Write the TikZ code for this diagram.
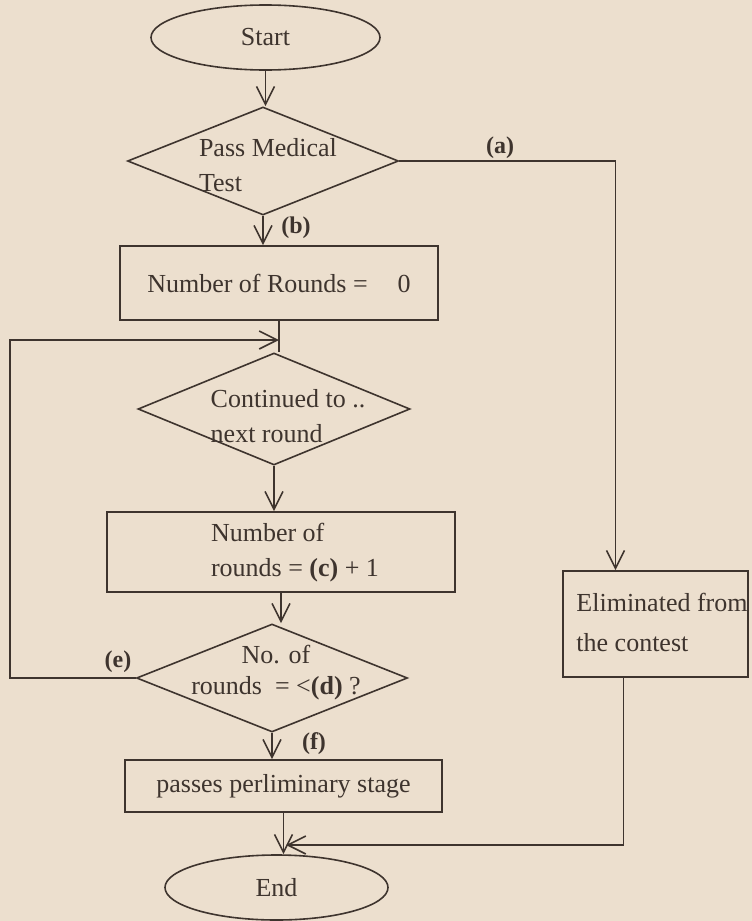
\documentclass[tikz,border=0pt]{standalone}
\usepackage{fontspec}
\setmainfont{Liberation Serif}
\usetikzlibrary{shapes.geometric,arrows.meta,calc}
\definecolor{paper}{RGB}{236,223,206}
\definecolor{ink}{RGB}{62,52,46}
\begin{document}
\begin{tikzpicture}[x=1pt,y=-1pt,
  every node/.style={font=\fontsize{26}{35}\selectfont, text=ink},
  shp/.style={draw=ink, line width=1.6pt, inner sep=0pt},
  term/.style={shp, ellipse},
  dec/.style={shp, diamond},
  proc/.style={shp, rectangle},
  txt/.style={inner sep=0pt, align=left},
  lab/.style={inner sep=0pt, font=\fontsize{24}{28}\selectfont\bfseries},
  conn/.style={draw=ink, line width=1.6pt},
  arr/.style={conn, -{Straight Barb[length=18pt,width=18pt]}}]
\fill[paper] (0,0) rectangle (752,921);
\useasboundingbox (0,0) rectangle (752,921);

% shapes
\node[term, minimum width=229pt, minimum height=65pt] (start) at (265.5,37.5) {Start};
\node[dec, minimum width=271pt, minimum height=108pt] (d1) at (263,161) {};
\node[txt] (d1t) at (268,165) {Pass Medical\\Test};
\node[proc, minimum width=318pt, minimum height=74pt] (b2) at (279,283) {Number of Rounds =\hspace{30pt}0};
\node[dec, minimum width=272pt, minimum height=112pt] (d2) at (274,409) {};
\node[txt] (d2t) at (288,416) {Continued to ..\\next round};
\node[proc, minimum width=348pt, minimum height=80pt] (b3) at (281,552) {};
\node[txt] (b3t) at (295,553) {Number of\\rounds = \textbf{(c)} + 1};
\node[dec, minimum width=271pt, minimum height=108pt] (d3) at (272,678) {};
\node[txt, align=center] (d3t) at (276,673) {No. of\\[-4pt]rounds~ = <\textbf{(d)} ?};
\node[proc, minimum width=317pt, minimum height=52pt] (b4) at (283.5,786) {passes perliminary stage};
\node[proc, minimum width=185pt, minimum height=106pt] (elim) at (655.5,624) {};
\node[txt] (elimt) at (662,622) {Eliminated from\\[5pt]the contest};
\node[term, minimum width=223pt, minimum height=65pt] (end) at (276.5,887.5) {End};

% labels
\node[lab] (la) at (500,148) {(a)};
\node[lab] (lb) at (296,228) {(b)};
\node[lab] (le) at (118,662) {(e)};
\node[lab] (lf) at (314,744) {(f)};

% helper coordinates
\coordinate (j1) at (279,340);
\coordinate (lp) at (10,340);
\coordinate (j2) at (286,845);

% connectors
\draw[arr] (start.south) -- (start.south |- d1.north);
\draw[arr] (d1.south) -- (d1.south |- b2.north);
\draw[arr] (d1.east) -| ([xshift=-40pt]elim.north);
\draw[conn] (b2.south) -- (b2.south |- d2.north);
\draw[arr] (d3.west) -| (lp) -- (j1);
\draw[arr] (d2.south) -- (d2.south |- b3.north);
\draw[arr] (b3.south) -- (b3.south |- d3.north);
\draw[arr] (d3.south) -- (d3.south |- b4.north);
\draw[arr] (b4.south) -- (b4.south |- end.north);
\draw[arr] ([xshift=-32pt]elim.south) |- (j2);
\end{tikzpicture}
\end{document}
